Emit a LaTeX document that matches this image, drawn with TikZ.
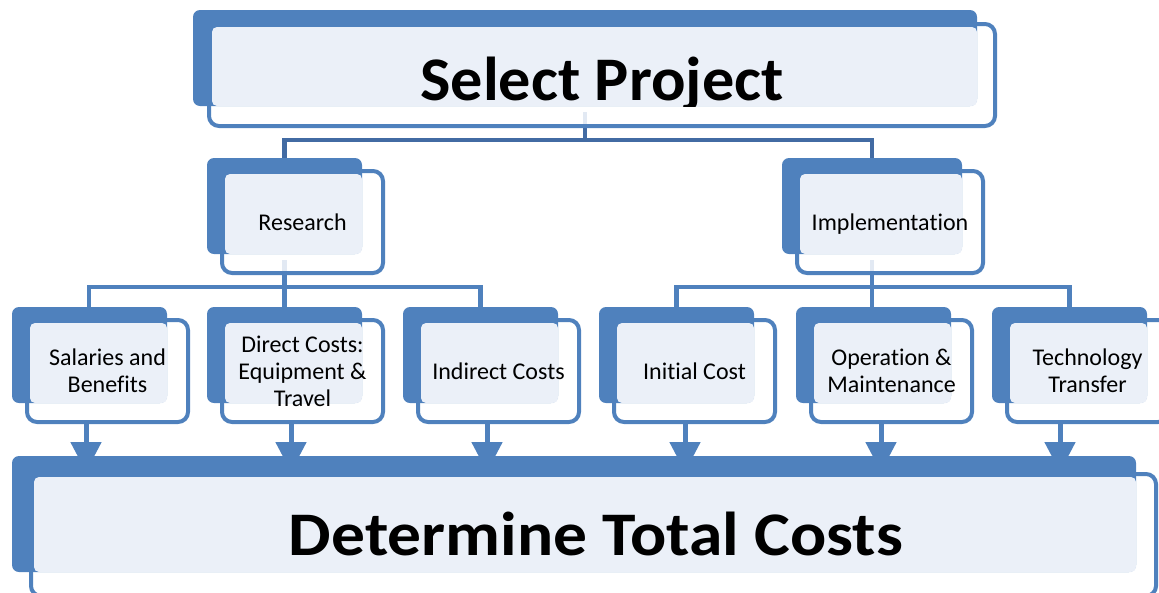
\documentclass[tikz,border=0pt]{standalone}
\usepackage{fontspec}
\setmainfont{Carlito}[Ligatures={NoCommon}]
\usetikzlibrary{arrows.meta}
\definecolor{cblue}{RGB}{79,129,189}
\definecolor{cdark}{RGB}{66,107,163}
\definecolor{clight}{RGB}{235,240,248}
\definecolor{cstub}{RGB}{226,233,243}
\newcommand\mycard[5]{% name, back left x, back top y, back width, back height
  \pgfmathsetmacro\fxa{#2+15}\pgfmathsetmacro\fya{#3+13}%
  \pgfmathsetmacro\fxb{#2+#4+21}\pgfmathsetmacro\fyb{#3+#5+19}%
  \pgfmathsetmacro\fw{\fxb-\fxa}\pgfmathsetmacro\fh{\fyb-\fya}%
  \node[frontbox, minimum width=\fw pt, minimum height=\fh pt] (#1f) at ({(\fxa+\fxb)/2},{(\fya+\fyb)/2}) {};
  \node[backbox, minimum width=#4pt, minimum height=#5pt] (#1) at ({#2+#4/2},{#3+#5/2}) {};
  \fill[lightbox] ([xshift=3pt,yshift=-3pt]#1f.north west) rectangle (#1.south east);
}
\begin{document}
\begin{tikzpicture}[x=1pt,y=-1pt,
  backbox/.style={fill=cblue, rounded corners=7pt, inner sep=0pt, outer sep=0pt},
  frontbox/.style={draw=cblue, line width=4pt, fill=white, rounded corners=10pt, inner sep=0pt, outer sep=0pt},
  lightbox/.style={fill=clight, rounded corners=5pt},
  smalltext/.style={font=\fontsize{24}{27}\selectfont, align=center, text=black},
  bigtext/.style={font=\fontsize{62}{70}\bfseries\selectfont, text=black, anchor=base},
  link/.style={draw=cblue, line width=4.5pt},
  toplink/.style={draw=cdark, line width=4.5pt},
  stub/.style={draw=cstub, line width=4.5pt},
  arrowlink/.style={draw=cblue, line width=5pt, -{Triangle[width=30pt,length=30pt]}, shorten >=2pt},
]
\useasboundingbox (0,0) rectangle (1159,592);
\clip (0,0) rectangle (1159,592);

% connectors (drawn first, boxes cover their ends)
\coordinate (tj) at (585,140);
\coordinate (rj) at (284.5,287);
\coordinate (ij) at (872,287);
\draw[toplink] (585,106) -- (tj) -| (284.5,158);
\draw[toplink] (tj) -| (872,158);
\draw[link] (284.5,254) -- (284.5,307);
\draw[link] (rj) -| (89,307);
\draw[link] (rj) -| (480.5,307);
\draw[link] (872,254) -- (872,307);
\draw[link] (ij) -| (676.5,307);
\draw[link] (ij) -| (1069.5,307);

% top box
\node[frontbox, minimum width=786pt, minimum height=102pt] (topf) at (602,75) {};
\node[backbox, minimum width=784pt, minimum height=96pt] (top) at (585,58) {};
\fill[lightbox] ([xshift=3pt,yshift=-3pt]topf.north west) rectangle (top.south east);

% level 1
\mycard{res}{207}{158}{155}{96}
\mycard{imp}{782}{158}{180}{96}

% level 2
\mycard{sal}{12}{307}{155}{96}
\mycard{dir}{207}{307}{155}{96}
\mycard{ind}{403}{307}{155}{96}
\mycard{ini}{599}{307}{155}{96}
\mycard{ope}{796}{307}{155}{96}
\mycard{tec}{992}{307}{155}{96}

% bottom box
\node[frontbox, minimum width=1125pt, minimum height=122pt] (totf) at (593.5,535) {};
\node[backbox, minimum width=1124pt, minimum height=116pt] (tot) at (574,514) {};
\fill[lightbox] ([xshift=3pt,yshift=-3pt]totf.north west) rectangle (tot.south east);

% stubs inside boxes
\draw[stub] ([yshift=-6pt]top.south) -- ([yshift=2pt]top.south |- topf.south);
\draw[stub] ([yshift=-6pt]res.south) -- ([yshift=2pt]res.south |- resf.south);
\draw[stub] ([yshift=-6pt]imp.south) -- ([yshift=2pt]imp.south |- impf.south);

% texts
\begin{scope}
  \clip ([xshift=3pt,yshift=-3pt]topf.north west) rectangle (top.south east);
  \node[bigtext] (tSel) at (602,100) {\scalebox{1.037}[1]{Select Project}};
\end{scope}
\node[bigtext] (tDet) at (596,555) {\scalebox{1.089}[1]{Determine Total Costs}};
\node[smalltext, text depth=0pt] at (resf) {Research};
\node[smalltext, text depth=0pt] at (impf) {Implementation};
\node[smalltext] at (salf) {Salaries and\\Benefits};
\node[smalltext] at (dirf) {Direct Costs:\\Equipment \&\\Travel};
\node[smalltext, text depth=0pt] at (indf) {Indirect Costs};
\node[smalltext, text depth=0pt] at (inif) {Initial Cost};
\node[smalltext] at (opef) {Operation \&\\Maintenance};
\node[smalltext] at (tecf) {Technology\\Transfer};

% arrows
\coordinate (a1) at (86,0);
\coordinate (a2) at (291,0);
\coordinate (a3) at (487,0);
\coordinate (a4) at (685,0);
\coordinate (a5) at (881,0);
\coordinate (a6) at (1060,0);
\draw[arrowlink] (salf.south -| a1) -- (totf.north -| a1);
\draw[arrowlink] (dirf.south -| a2) -- (totf.north -| a2);
\draw[arrowlink] (indf.south -| a3) -- (totf.north -| a3);
\draw[arrowlink] (inif.south -| a4) -- (totf.north -| a4);
\draw[arrowlink] (opef.south -| a5) -- (totf.north -| a5);
\draw[arrowlink] (tecf.south -| a6) -- (totf.north -| a6);
\end{tikzpicture}
\end{document}
